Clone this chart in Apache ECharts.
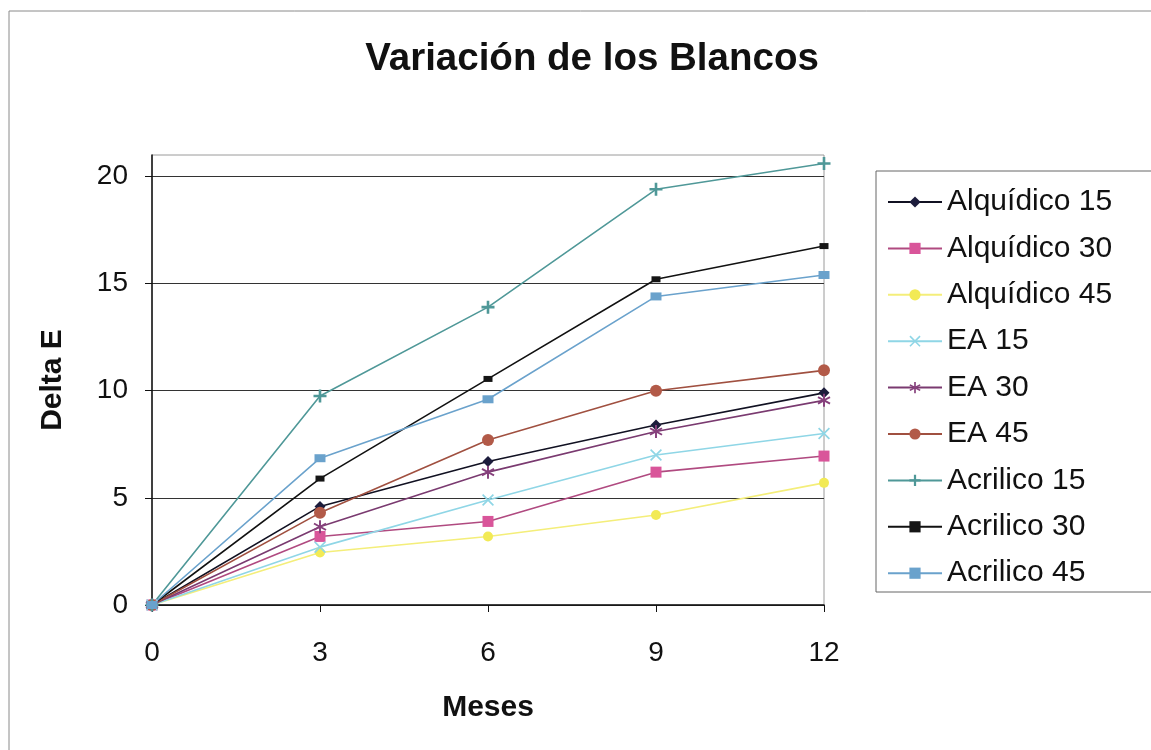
<!DOCTYPE html>
<html>
<head>
<meta charset="utf-8">
<script src="https://cdn.jsdelivr.net/npm/echarts@6/dist/echarts.min.js"></script>
<style>html,body{margin:0;padding:0;background:#fff}#c{width:1151px;height:750px}</style>
</head>
<body>
<div id="c"></div>
<script>
var months = [0, 3, 6, 9, 12];
var seriesNames = ['Alquídico 15','Alquídico 30','Alquídico 45','EA 15','EA 30','EA 45','Acrilico 15','Acrilico 30','Acrilico 45'];
var alquidico15 = [0, 4.6, 6.7, 8.4, 9.9];
var alquidico30 = [0, 3.2, 3.9, 6.2, 6.95];
var alquidico45 = [0, 2.45, 3.2, 4.2, 5.7];
var ea15 = [0, 2.7, 4.9, 7.0, 8.0];
var ea30 = [0, 3.65, 6.2, 8.1, 9.55];
var ea45 = [0, 4.3, 7.7, 10.0, 10.95];
var acrilico15 = [0, 9.75, 13.9, 19.4, 20.6];
var acrilico30 = [0, 5.9, 10.55, 15.2, 16.75];
var acrilico45 = [0, 6.85, 9.6, 14.4, 15.4];
var yTicks = [0, 5, 10, 15, 20];

var allData = [alquidico15, alquidico30, alquidico45, ea15, ea30, ea45, acrilico15, acrilico30, acrilico45];
var colors = ['#1c1c3c','#d9559a','#f2ea55','#8fd6e6','#86407c','#b25a48','#4f9898','#151515','#6aa2cc'];
var lineColors = ['#111122','#b04a80','#f4ee7a','#8fd6e6','#7a3a70','#a05040','#4f9898','#111111','#6aa2cc'];
var xPath = 'path://M0,1 L1,0 L5,4 L9,0 L10,1 L6,5 L10,9 L9,10 L5,6 L1,10 L0,9 L4,5 Z';
var plusPath = 'path://M4,0 L6,0 L6,4 L10,4 L10,6 L6,6 L6,10 L4,10 L4,6 L0,6 L0,4 L4,4 Z';
var starPath = 'path://M4.3,0 L5.7,0 L5.7,3.8 L9,1.9 L9.7,3.1 L6.4,5 L9.7,6.9 L9,8.1 L5.7,6.2 L5.7,10 L4.3,10 L4.3,6.2 L1,8.1 L0.3,6.9 L3.6,5 L0.3,3.1 L1,1.9 L4.3,3.8 Z';
var symbols = ['diamond','rect','circle', xPath, starPath,'circle', plusPath,'rect','rect'];
var symbolSizes = [11, 11, 10, 12, 13, 12, 13, [9,6], [11,8]];

var series = seriesNames.map(function (n, i) {
  return {
    name: n, type: 'line',
    data: months.map(function (m, j) { return [m, allData[i][j]]; }),
    symbol: symbols[i], symbolSize: symbolSizes[i],
    lineStyle: { color: lineColors[i], width: 1.6 },
    itemStyle: { color: colors[i], borderWidth: 0 },
    z: 3
  };
});

var chart = echarts.init(document.getElementById('c'));
chart.setOption({
  animation: false,
  backgroundColor: '#ffffff',
  color: colors,
  title: {
    text: 'Variación de los Blancos', left: 587, top: 35, textAlign: 'center',
    textStyle: { fontFamily: 'Liberation Sans', fontSize: 38.5, fontWeight: 'bold', color: '#111' }
  },
  graphic: [
    { type: 'rect', shape: { x: 9, y: 11, width: 1200, height: 800 }, style: { fill: 'none', stroke: '#8a8a8a', lineWidth: 1 }, z: -1 },
    { type: 'rect', shape: { x: 876, y: 171, width: 400, height: 421 }, style: { fill: '#fff', stroke: '#666', lineWidth: 1 }, z: -1 }
  ],
  grid: { left: 152, top: 155, width: 672, height: 450, show: true, borderColor: '#9a9a9a', borderWidth: 1, backgroundColor: 'transparent' },
  legend: {
    orient: 'vertical', left: 882, top: 180,
    itemWidth: 54, itemHeight: 14, itemGap: 12.4,
    data: seriesNames,
    textStyle: { fontFamily: 'Liberation Sans', fontSize: 30, color: '#111', lineHeight: 34 }
  },
  xAxis: {
    type: 'value', min: 0, max: 12, interval: 3,
    name: 'Meses', nameLocation: 'middle', nameGap: 88,
    nameTextStyle: { fontFamily: 'Liberation Sans', fontSize: 30, fontWeight: 'bold', color: '#111' },
    axisLine: { lineStyle: { color: '#111', width: 1.5 } },
    axisTick: { show: true, length: 7, lineStyle: { color: '#111' } },
    axisLabel: { fontFamily: 'Liberation Sans', fontSize: 28, color: '#111', margin: 34 },
    splitLine: { show: false }
  },
  yAxis: {
    type: 'value', min: 0, max: 21, interval: 5,
    name: 'Delta E', nameLocation: 'middle', nameGap: 84, nameRotate: 90,
    nameTextStyle: { fontFamily: 'Liberation Sans', fontSize: 30, fontWeight: 'bold', color: '#111' },
    axisLine: { show: true, lineStyle: { color: '#111', width: 1.5 } },
    axisTick: { show: true, length: 7, lineStyle: { color: '#111' }, customValues: yTicks },
    axisLabel: {
      fontFamily: 'Liberation Sans', fontSize: 28, color: '#111', margin: 24, customValues: yTicks,
      formatter: function (v) { return yTicks.indexOf(v) >= 0 ? String(v) : ''; }
    },
    splitLine: { show: true, lineStyle: { color: ['#333','#333','#333','#333','#333','#9a9a9a'], width: 1 } }
  },
  series: series
});
</script>
</body>
</html>
